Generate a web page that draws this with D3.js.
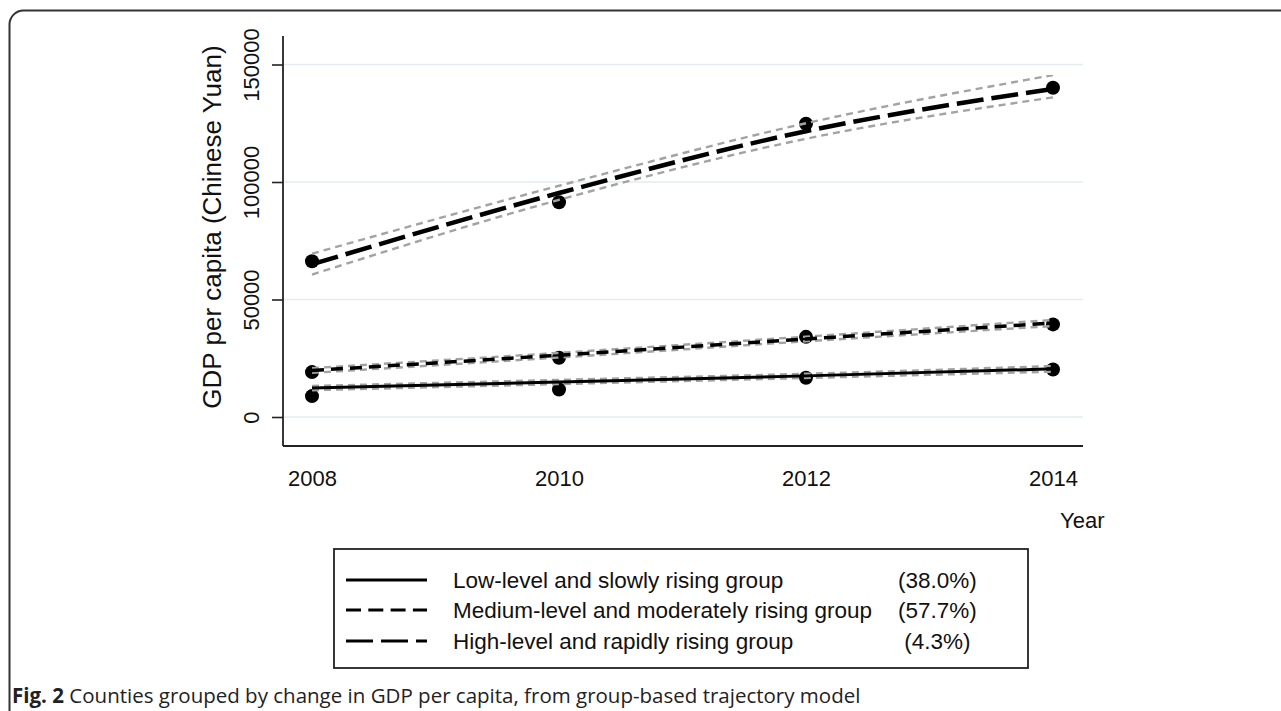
<!DOCTYPE html>
<html>
<head>
<meta charset="utf-8">
<script src="https://cdn.jsdelivr.net/npm/d3@7"></script>
<style>
  html, body { margin: 0; padding: 0; background: #fff; }
  svg { display: block; }
</style>
</head>
<body>
<svg id="chart" width="1281" height="711"></svg>
<script>
// ---------------- data ----------------
const years = [2008, 2010, 2012, 2014];
const yTicks = [0, 50000, 100000, 150000];

const lowObs   = [8900, 11700, 16700, 20200];
const lowFit   = [12300, 14900, 17500, 20500];
const lowUpper = [13200, 15800, 18400, 21700];
const lowLower = [11400, 14000, 16600, 19300];

const medObs   = [19100, 25200, 34100, 39400];
const medFit   = [19800, 26300, 33200, 40000];
const medUpper = [20800, 27300, 34200, 41300];
const medLower = [18800, 25300, 32200, 38700];

const highObs   = [66300, 91400, 124800, 140100];
const highFit   = [65000, 95300, 121600, 139600];
const highUpper = [69500, 98400, 125000, 145500];
const highLower = [60600, 92400, 118400, 136000];

const groupNames = [
  "Low-level and slowly rising group",
  "Medium-level and moderately rising group",
  "High-level and rapidly rising group"
];
const groupShares = ["(38.0%)", "(57.7%)", " (4.3%)"];

const yTitle = "GDP per capita (Chinese Yuan)";
const xTitle = "Year";
const captionBold = "Fig. 2";
const captionText = " Counties grouped by change in GDP per capita, from group-based trajectory model";

// ---------------- drawing ----------------
const svg = d3.select("#chart");
const FONT = "'Liberation Sans', Arial, Helvetica, sans-serif";

// outer frame (rounded, runs off right and bottom)
svg.append("rect")
  .attr("x", 9.5).attr("y", 10.5)
  .attr("width", 1320).attr("height", 760)
  .attr("rx", 14).attr("ry", 14)
  .attr("fill", "none").attr("stroke", "#333").attr("stroke-width", 2);

const plot = { left: 283, right: 1083, top: 36, bottom: 446 };

const x = d3.scaleLinear().domain([2008, 2014]).range([312, 1053]);
const y = d3.scaleLinear().domain([0, 50000]).range([417, 299.5]);

// gridlines
svg.append("g").selectAll("line").data(yTicks).join("line")
  .attr("x1", plot.left).attr("x2", plot.right)
  .attr("y1", d => y(d)).attr("y2", d => y(d))
  .attr("stroke", "#e3ecef").attr("stroke-width", 1.5);

// y axis
const yAxis = d3.axisLeft(y).tickValues(yTicks).tickSize(11).tickPadding(8).tickFormat(d3.format("d"));
const gy = svg.append("g").attr("transform", `translate(${plot.left},0)`).call(yAxis);
gy.select(".domain").remove();
gy.selectAll(".tick line").attr("stroke", "#222").attr("stroke-width", 1.6);
gy.selectAll(".tick text")
  .attr("font-family", FONT).attr("font-size", 22).attr("fill", "#111")
  .attr("text-anchor", "middle")
  .attr("transform", "rotate(-90)")
  .attr("x", 0).attr("y", -32)
  .attr("dy", "0.35em");

svg.append("line").attr("x1", plot.left).attr("x2", plot.left)
  .attr("y1", plot.top).attr("y2", plot.bottom)
  .attr("stroke", "#222").attr("stroke-width", 1.8);

// x axis
const xAxis = d3.axisBottom(x).tickValues(years).tickSize(0).tickPadding(24).tickFormat(d3.format("d"));
const gx = svg.append("g").attr("transform", `translate(0,${plot.bottom})`).call(xAxis);
gx.select(".domain").remove();
gx.selectAll(".tick text").attr("font-family", FONT).attr("font-size", 22).attr("fill", "#111");
svg.append("line").attr("x1", plot.left).attr("x2", plot.right)
  .attr("y1", plot.bottom).attr("y2", plot.bottom)
  .attr("stroke", "#222").attr("stroke-width", 1.8);

// titles
svg.append("text")
  .attr("transform", `translate(212,${(plot.top + plot.bottom) / 2 - 14}) rotate(-90)`)
  .attr("text-anchor", "middle").attr("dy", "0.35em")
  .attr("font-family", FONT).attr("font-size", 26).attr("fill", "#111")
  .text(yTitle);

svg.append("text")
  .attr("x", 1060).attr("y", 520).attr("dy", "0.35em")
  .attr("font-family", FONT).attr("font-size", 22).attr("fill", "#111")
  .text(xTitle);

// observed points (drawn under lines)
const obsSets = [lowObs, medObs, highObs];
obsSets.forEach(arr => {
  svg.append("g").selectAll("circle").data(arr).join("circle")
    .attr("cx", (d, i) => x(years[i])).attr("cy", d => y(d))
    .attr("r", 7).attr("fill", "#000");
});

const line = d3.line().x((d, i) => x(years[i])).y(d => y(d)).curve(d3.curveMonotoneX);

// CI lines
const ciSets = [lowUpper, lowLower, medUpper, medLower, highUpper, highLower];
ciSets.forEach(arr => {
  svg.append("path").datum(arr).attr("d", line)
    .attr("fill", "none").attr("stroke", "#a3a3a3").attr("stroke-width", 2.4)
    .attr("stroke-dasharray", "7,5");
});

// fitted lines
const styles = [
  { data: lowFit,  dash: null,     w: 3 },
  { data: medFit,  dash: "12,7",   w: 3.5 },
  { data: highFit, dash: "27,8",   w: 4.5 }
];
styles.forEach(s => {
  svg.append("path").datum(s.data).attr("d", line)
    .attr("fill", "none").attr("stroke", "#000").attr("stroke-width", s.w)
    .attr("stroke-dasharray", s.dash);
});

// legend
const lg = svg.append("g");
lg.append("rect").attr("x", 334).attr("y", 549).attr("width", 694).attr("height", 119)
  .attr("fill", "#fff").attr("stroke", "#222").attr("stroke-width", 1.8);
const rowY = [580, 610, 641];
const legDash = [null, "15,7.3", "27,8"];
groupNames.forEach((name, i) => {
  lg.append("line").attr("x1", 346).attr("x2", 427).attr("y1", rowY[i]).attr("y2", rowY[i])
    .attr("stroke", "#000").attr("stroke-width", 3.2).attr("stroke-dasharray", legDash[i]);
  lg.append("text").attr("x", 453).attr("y", rowY[i]).attr("dy", "0.35em")
    .attr("font-family", FONT).attr("font-size", 22.5).attr("fill", "#111")
    .text(name);
  lg.append("text").attr("x", 898).attr("y", rowY[i]).attr("dy", "0.35em")
    .attr("font-family", FONT).attr("font-size", 22.5).attr("fill", "#111")
    .style("white-space", "pre")
    .text(groupShares[i]);
});

// caption
const cap = svg.append("text").attr("x", 12).attr("y", 696).attr("dy", "0.35em")
  .attr("font-family", "'Open Sans', 'Noto Sans', sans-serif").attr("font-size", 20.5).attr("fill", "#222");
cap.append("tspan").attr("font-weight", "bold").text(captionBold);
cap.append("tspan").style("white-space", "pre").text(captionText);
</script>
</body>
</html>
